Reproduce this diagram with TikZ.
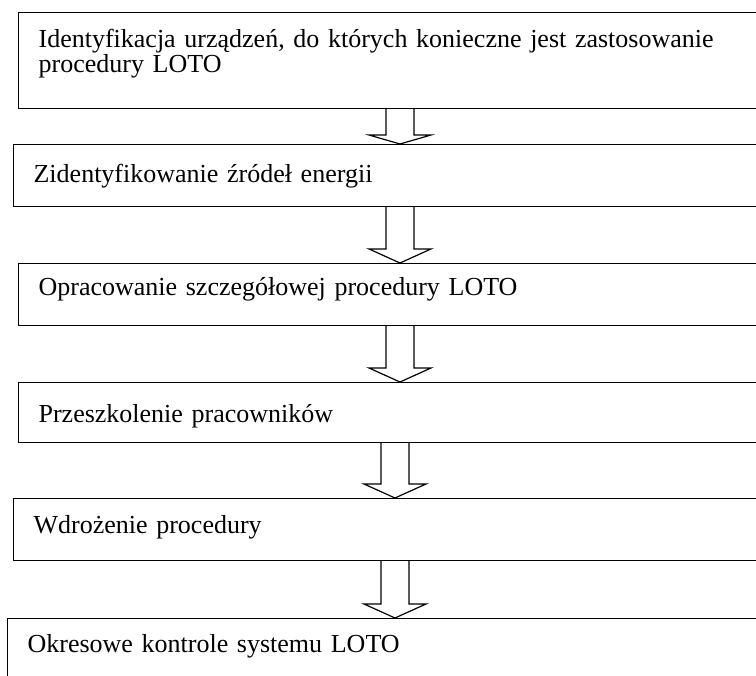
\documentclass[tikz,border=0pt]{standalone}
\usepackage{fontspec}
\setmainfont{Liberation Serif}
\usetikzlibrary{calc}

\tikzset{
  stage/.style={draw, line width=1.2pt, rectangle, anchor=north west,
    text width=760pt, align=left, inner xsep=20pt, inner ysep=0pt,
    text height=20pt, font=\fontsize{26}{25}\selectfont},
  blockarrow/.style={draw, line width=1.2pt, fill=white, line join=miter}
}

\begin{document}
\begin{tikzpicture}[x=1pt, y=-1pt]
  \clip (0,0) rectangle (756,676);

  % steps of the procedure
  \node[stage, minimum height=96pt, text depth=46pt] (b1) at (18,12)
    {Identyfikacja urządzeń, do których konieczne jest zastosowanie\\procedury LOTO};
  \node[stage, minimum height=62pt, text depth=6pt] (b2) at (13,144) {Zidentyfikowanie źródeł energii};
  \node[stage, minimum height=62pt, text depth=18pt] (b3) at (18,263) {Opracowanie szczegółowej procedury LOTO};
  \node[stage, minimum height=60pt, text depth=0pt] (b4) at (18,382) {Przeszkolenie pracowników};
  \node[stage, minimum height=62pt, text depth=12pt] (b5) at (13,498) {Wdrożenie procedury};
  \node[stage, minimum height=90pt, text depth=42pt] (b6) at (7,618) {Okresowe kontrole systemu LOTO};

  % block arrows between the steps
  \coordinate (ax) at (400,0);
  \coordinate (bx) at (395,0);
  \foreach \a/\b/\c/\h in {b1/b2/ax/9, b2/b3/ax/14, b3/b4/ax/14, b4/b5/bx/14, b5/b6/bx/14}
    \draw[blockarrow] ($(\c |- \a.south)+(-14,0)$) -- ($(\c |- \b.north)+(-14,-\h)$)
      -- ($(\c |- \b.north)+(-31,-\h)$) -- (\c |- \b.north)
      -- ($(\c |- \b.north)+(31,-\h)$) -- ($(\c |- \b.north)+(14,-\h)$)
      -- ($(\c |- \a.south)+(14,0)$);
\end{tikzpicture}
\end{document}
